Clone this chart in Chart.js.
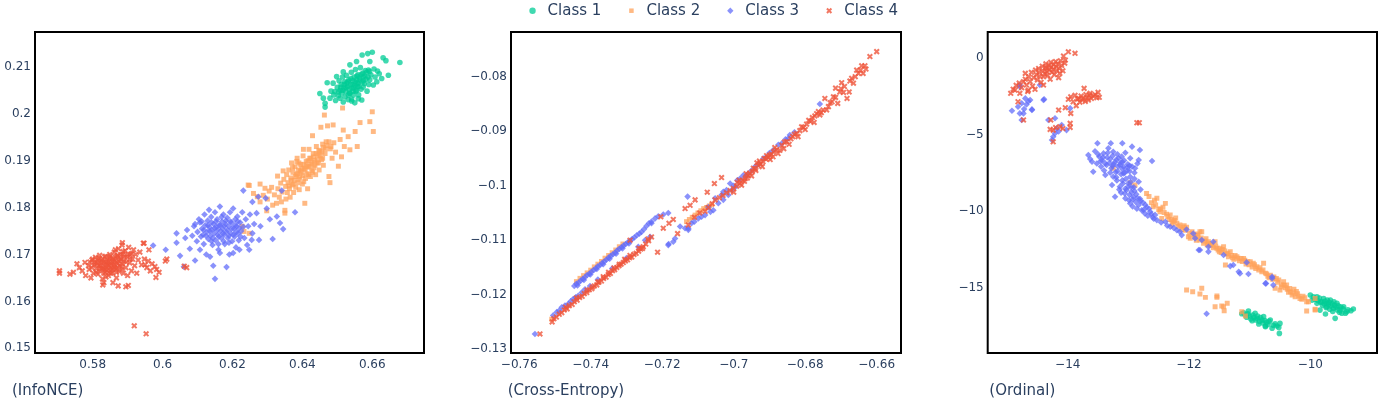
<!DOCTYPE html>
<html>
<head>
<meta charset="utf-8">
<script src="https://cdn.jsdelivr.net/npm/chart.js@4.4.1/dist/chart.umd.min.js"></script>
<style>
  body { margin: 0; background: #fff; }
  #wrap { position: relative; width: 1386px; height: 403px; overflow: hidden; }
  .panel { position: absolute; top: 0; height: 403px; }
</style>
</head>
<body>
<div id="wrap">
  <div class="panel" style="left:0;width:440px"><canvas id="infoChart"></canvas></div>
  <div class="panel" style="left:460px;width:495px"><canvas id="ceChart"></canvas></div>
  <div class="panel" style="left:955px;width:431px"><canvas id="ordChart"></canvas></div>
</div>

<script>
// ---- data ----
const classNames = ['Class 1', 'Class 2', 'Class 3', 'Class 4'];

// panel 1: InfoNCE
const infoXTicks = [0.58, 0.6, 0.62, 0.64, 0.66];
const infoYTicks = [0.15, 0.16, 0.17, 0.18, 0.19, 0.2, 0.21];

const infoC1 = [
  [0.6450,0.2043],[0.6460,0.2033],[0.6465,0.2022],[0.6465,0.2014],[0.6471,0.2066],[0.6479,0.2033],[0.6482,0.2048],
  [0.6488,0.2065],[0.6490,0.2040],[0.6493,0.2047],[0.6495,0.2028],[0.6498,0.2079],[0.6500,0.2056],[0.6503,0.2038],
  [0.6505,0.2070],[0.6508,0.2050],[0.6508,0.2033],[0.6511,0.2062],[0.6513,0.2044],[0.6515,0.2078],[0.6517,0.2025],
  [0.6517,0.2089],[0.6519,0.2055],[0.6521,0.2068],[0.6522,0.2036],[0.6524,0.2047],[0.6526,0.2082],[0.6527,0.2065],
  [0.6529,0.2058],[0.6531,0.2030],[0.6533,0.2072],[0.6535,0.2044],[0.6536,0.2104],[0.6536,0.2043],[0.6538,0.2062],
  [0.6540,0.2088],[0.6541,0.2031],[0.6541,0.2027],[0.6542,0.2054],[0.6544,0.2070],[0.6546,0.2040],[0.6548,0.2078],
  [0.6550,0.2023],[0.6550,0.2060],[0.6552,0.2094],[0.6553,0.2048],[0.6555,0.2111],[0.6555,0.2072],[0.6555,0.2050],
  [0.6557,0.2066],[0.6559,0.2083],[0.6560,0.2032],[0.6561,0.2040],[0.6562,0.2058],[0.6564,0.2076],[0.6566,0.2098],
  [0.6568,0.2052],[0.6570,0.2029],[0.6571,0.2125],[0.6571,0.2068],[0.6573,0.2086],[0.6574,0.2079],[0.6574,0.2057],
  [0.6577,0.2064],[0.6580,0.2092],[0.6582,0.2073],[0.6585,0.2048],[0.6587,0.2128],[0.6589,0.2093],[0.6590,0.2062],
  [0.6593,0.2111],[0.6593,0.2072],[0.6596,0.2083],[0.6600,0.2131],[0.6603,0.2061],[0.6605,0.2095],[0.6608,0.2078],
  [0.6613,0.2068],[0.6615,0.2091],[0.6620,0.2085],[0.6627,0.2075],[0.6631,0.2119],[0.6639,0.2113],[0.6646,0.2082],
  [0.6679,0.2109],
  [0.6504,0.2046],[0.6510,0.2056],[0.6516,0.2050],[0.6520,0.2062],[0.6525,0.2055],[0.6530,0.2068],[0.6534,0.2052],
  [0.6539,0.2075],[0.6543,0.2062],[0.6547,0.2056],[0.6551,0.2068],[0.6556,0.2080],[0.6560,0.2064],[0.6565,0.2072],
  [0.6569,0.2084],[0.6575,0.2070],[0.6579,0.2080],[0.6584,0.2088],[0.6588,0.2078],[0.6592,0.2090],[0.6532,0.2040],
  [0.6545,0.2048],[0.6558,0.2058]
];
const infoC2 = [
  [0.6233,0.1749],[0.6248,0.1745],[0.6228,0.1760],[0.6245,0.1848],[0.6248,0.1847],[0.6260,0.1830],[0.6271,0.1823],
  [0.6279,0.1850],[0.6279,0.1812],[0.6288,0.1826],[0.6293,0.1841],[0.6298,0.1793],[0.6300,0.1818],[0.6305,0.1835],
  [0.6312,0.1843],[0.6315,0.1805],[0.6320,0.1827],[0.6326,0.1809],[0.6329,0.1867],[0.6330,0.1840],[0.6334,0.1822],
  [0.6338,0.1852],[0.6340,0.1812],[0.6342,0.1833],[0.6345,0.1878],[0.6347,0.1860],[0.6350,0.1788],[0.6350,0.1794],
  [0.6352,0.1845],[0.6353,0.1818],[0.6355,0.1870],[0.6357,0.1832],[0.6359,0.1853],[0.6361,0.1880],[0.6363,0.1840],
  [0.6365,0.1822],[0.6367,0.1863],[0.6369,0.1895],[0.6371,0.1848],[0.6373,0.1875],[0.6375,0.1832],[0.6377,0.1858],
  [0.6379,0.1887],[0.6381,0.1843],[0.6383,0.1870],[0.6385,0.1905],[0.6387,0.1853],[0.6389,0.1880],[0.6391,0.1838],
  [0.6393,0.1865],[0.6395,0.1892],[0.6397,0.1875],[0.6400,0.1850],[0.6402,0.1910],[0.6403,0.1924],[0.6405,0.1883],
  [0.6407,0.1809],[0.6409,0.1862],[0.6411,0.1898],[0.6413,0.1872],[0.6415,0.1840],[0.6417,0.1888],[0.6419,0.1924],
  [0.6421,0.1905],[0.6423,0.1866],[0.6425,0.1893],[0.6427,0.1878],[0.6429,0.1953],[0.6431,0.1915],[0.6433,0.1885],
  [0.6435,0.1900],[0.6438,0.1870],[0.6440,0.1930],[0.6442,0.1895],[0.6445,0.1912],[0.6448,0.1880],[0.6450,0.1920],
  [0.6453,0.1971],[0.6455,0.1902],[0.6458,0.1935],[0.6460,0.1890],[0.6463,0.1997],[0.6465,0.1915],[0.6468,0.1940],
  [0.6472,0.1974],[0.6476,0.1866],[0.6479,0.1853],[0.6480,0.1925],[0.6485,0.1905],[0.6488,0.1976],[0.6490,0.1938],
  [0.6495,0.1918],[0.6503,0.1888],[0.6508,0.1945],[0.6512,0.1908],[0.6515,0.2012],[0.6517,0.1965],[0.6520,0.1930],
  [0.6531,0.1951],[0.6536,0.1923],[0.6551,0.1962],[0.6557,0.1930],[0.6565,0.1981],[0.6593,0.1983],[0.6600,0.2004],
  [0.6603,0.1962],
  [0.6362,0.1846],[0.6368,0.1858],[0.6374,0.1850],[0.6380,0.1866],[0.6386,0.1872],[0.6390,0.1860],[0.6394,0.1878],
  [0.6398,0.1884],[0.6401,0.1868],[0.6404,0.1892],[0.6408,0.1880],[0.6412,0.1888],[0.6416,0.1900],[0.6420,0.1886],
  [0.6424,0.1905],[0.6428,0.1896],[0.6432,0.1908],[0.6436,0.1890],[0.6439,0.1915],[0.6443,0.1903],[0.6447,0.1922],
  [0.6451,0.1910],[0.6456,0.1918],[0.6460,0.1928],[0.6466,0.1925],[0.6470,0.1932],[0.6476,0.1940],[0.6482,0.1930],
  [0.6390,0.1895],[0.6404,0.1855],[0.6418,0.1870],[0.6430,0.1875],[0.6446,0.1895],[0.6458,0.1905],[0.6372,0.1885],
  [0.6384,0.1898]
];
const infoC3 = [
  [0.5973,0.1719],[0.6009,0.1710],[0.6040,0.1745],[0.6040,0.1725],[0.6050,0.1697],[0.6061,0.1674],[0.6065,0.1735],
  [0.6070,0.1752],[0.6078,0.1712],[0.6085,0.1740],[0.6090,0.1760],[0.6093,0.1687],[0.6093,0.1765],[0.6098,0.1728],
  [0.6100,0.1748],[0.6104,0.1775],[0.6107,0.1768],[0.6107,0.1710],[0.6110,0.1738],[0.6113,0.1755],[0.6116,0.1742],
  [0.6118,0.1722],[0.6120,0.1785],[0.6122,0.1762],[0.6125,0.1700],[0.6127,0.1748],[0.6129,0.1772],[0.6131,0.1733],
  [0.6133,0.1795],[0.6134,0.1758],[0.6136,0.1695],[0.6137,0.1740],[0.6139,0.1780],[0.6141,0.1752],[0.6143,0.1720],
  [0.6145,0.1676],[0.6146,0.1765],[0.6148,0.1745],[0.6150,0.1648],[0.6150,0.1790],[0.6152,0.1730],[0.6154,0.1758],
  [0.6156,0.1775],[0.6158,0.1742],[0.6160,0.1710],[0.6162,0.1762],[0.6164,0.1802],[0.6164,0.1703],[0.6166,0.1750],
  [0.6168,0.1735],[0.6170,0.1770],[0.6172,0.1755],[0.6174,0.1785],[0.6176,0.1742],[0.6178,0.1722],[0.6180,0.1765],
  [0.6182,0.1748],[0.6183,0.1673],[0.6185,0.1778],[0.6187,0.1735],[0.6189,0.1760],[0.6191,0.1700],[0.6193,0.1790],
  [0.6195,0.1745],[0.6197,0.1768],[0.6199,0.1728],[0.6202,0.1798],[0.6202,0.1703],[0.6204,0.1755],[0.6206,0.1738],
  [0.6208,0.1775],[0.6210,0.1715],[0.6212,0.1760],[0.6214,0.1781],[0.6216,0.1745],[0.6218,0.1730],[0.6220,0.1710],
  [0.6222,0.1768],[0.6225,0.1750],[0.6228,0.1790],[0.6231,0.1759],[0.6231,0.1836],[0.6234,0.1735],[0.6238,0.1775],
  [0.6242,0.1720],[0.6245,0.1760],[0.6248,0.1710],[0.6250,0.1785],[0.6255,0.1731],[0.6257,0.1745],[0.6257,0.1812],
  [0.6262,0.1765],[0.6269,0.1788],[0.6274,0.1823],[0.6276,0.1731],[0.6280,0.1760],[0.6295,0.1820],[0.6298,0.1798],
  [0.6307,0.1775],[0.6315,0.1733],[0.6327,0.1781],[0.6336,0.1767],[0.6341,0.1836],[0.6345,0.1754],[0.6379,0.1790],
  [0.6112,0.1770],[0.6118,0.1752],[0.6124,0.1740],[0.6130,0.1762],[0.6135,0.1750],[0.6140,0.1768],[0.6144,0.1735],
  [0.6149,0.1756],[0.6153,0.1770],[0.6157,0.1752],[0.6161,0.1738],[0.6165,0.1762],[0.6169,0.1780],[0.6173,0.1745],
  [0.6177,0.1760],[0.6181,0.1772],[0.6186,0.1752],[0.6190,0.1740],[0.6194,0.1770],[0.6198,0.1755],[0.6203,0.1742],
  [0.6207,0.1762],[0.6211,0.1748],[0.6215,0.1770],[0.6219,0.1756],[0.6223,0.1738],[0.6160,0.1722],[0.6175,0.1728],
  [0.6190,0.1725],[0.6140,0.1728]
];
const infoC4 = [
  [0.5705,0.1665],[0.5705,0.1660],[0.5735,0.1658],[0.5745,0.1662],[0.5755,0.1680],[0.5762,0.1672],[0.5770,0.1665],
  [0.5778,0.1683],[0.5780,0.1655],[0.5788,0.1676],[0.5790,0.1668],[0.5795,0.1650],[0.5798,0.1688],[0.5800,0.1690],
  [0.5802,0.1660],[0.5805,0.1678],[0.5805,0.1682],[0.5810,0.1670],[0.5810,0.1662],[0.5812,0.1684],[0.5815,0.1658],
  [0.5815,0.1688],[0.5818,0.1692],[0.5818,0.1676],[0.5820,0.1665],[0.5822,0.1672],[0.5823,0.1676],[0.5825,0.1682],
  [0.5826,0.1686],[0.5828,0.1648],[0.5828,0.1690],[0.5829,0.1635],[0.5830,0.1670],[0.5832,0.1640],[0.5832,0.1660],
  [0.5834,0.1695],[0.5835,0.1668],[0.5836,0.1662],[0.5838,0.1680],[0.5838,0.1652],[0.5840,0.1672],[0.5840,0.1684],
  [0.5842,0.1688],[0.5843,0.1678],[0.5845,0.1655],[0.5846,0.1662],[0.5847,0.1676],[0.5848,0.1692],[0.5849,0.1700],
  [0.5851,0.1666],[0.5852,0.1672],[0.5853,0.1683],[0.5855,0.1692],[0.5856,0.1668],[0.5857,0.1660],[0.5858,0.1685],
  [0.5858,0.1640],[0.5860,0.1675],[0.5862,0.1705],[0.5862,0.1678],[0.5864,0.1687],[0.5865,0.1710],[0.5866,0.1668],
  [0.5866,0.1695],[0.5868,0.1650],[0.5870,0.1696],[0.5870,0.1672],[0.5872,0.1680],[0.5873,0.1633],[0.5874,0.1712],
  [0.5875,0.1686],[0.5876,0.1664],[0.5879,0.1690],[0.5880,0.1700],[0.5882,0.1674],[0.5884,0.1720],[0.5885,0.1725],
  [0.5885,0.1680],[0.5886,0.1700],[0.5888,0.1660],[0.5890,0.1686],[0.5893,0.1708],[0.5895,0.1672],[0.5895,0.1631],
  [0.5898,0.1695],[0.5900,0.1655],[0.5902,0.1634],[0.5903,0.1715],[0.5906,0.1682],[0.5908,0.1700],[0.5911,0.1665],
  [0.5914,0.1690],[0.5917,0.1710],[0.5920,0.1676],[0.5923,0.1700],[0.5926,0.1660],[0.5930,0.1688],[0.5935,0.1705],
  [0.5940,0.1678],[0.5945,0.1724],[0.5947,0.1724],[0.5948,0.1690],[0.5950,0.1678],[0.5955,0.1672],[0.5959,0.1686],
  [0.5961,0.1710],[0.5965,0.1665],[0.5970,0.1680],[0.5978,0.1674],[0.5981,0.1651],[0.5983,0.1668],[0.5990,0.1662],
  [0.6008,0.1686],[0.6012,0.1690],[0.6062,0.1675],[0.6069,0.1672],[0.5919,0.1548],[0.5953,0.1531],
  [0.5792,0.1684],[0.5798,0.1672],[0.5808,0.1694],[0.5813,0.1680],[0.5820,0.1698],[0.5826,0.1670],[0.5831,0.1684],
  [0.5837,0.1696],[0.5841,0.1666],[0.5846,0.1684],[0.5850,0.1696],[0.5854,0.1678],[0.5859,0.1690],[0.5863,0.1672],
  [0.5868,0.1684],[0.5872,0.1698],[0.5877,0.1676],[0.5881,0.1690],[0.5887,0.1706],[0.5891,0.1695],[0.5896,0.1684],
  [0.5901,0.1700],[0.5907,0.1690],[0.5912,0.1702],[0.5836,0.1675],[0.5852,0.1660],[0.5868,0.1662],[0.5884,0.1668]
];

// panel 2: Cross-Entropy
const ceXTicks = [-0.76, -0.74, -0.72, -0.7, -0.68, -0.66];
const ceYTicks = [-0.13, -0.12, -0.11, -0.1, -0.09, -0.08];

const ceC1 = [];
const ceC2 = [
  [-0.7509,-0.1245],
  [-0.7440,-0.1176],[-0.7430,-0.1170],[-0.7420,-0.1165],[-0.7410,-0.1160],[-0.7400,-0.1155],[-0.7390,-0.1149],
  [-0.7380,-0.1144],[-0.7370,-0.1139],[-0.7360,-0.1133],[-0.7350,-0.1128],[-0.7340,-0.1123],[-0.7330,-0.1118],
  [-0.7320,-0.1112],[-0.7310,-0.1107],
  [-0.7132,-0.1066],[-0.7124,-0.1062],[-0.7116,-0.1058],[-0.7108,-0.1054],[-0.7100,-0.1050],[-0.7092,-0.1046],
  [-0.7084,-0.1042],[-0.7076,-0.1040],[-0.7068,-0.1037],[-0.7062,-0.1035]
];
const ceC3 = [
  [-0.7556,-0.1272],
  [-0.7505,-0.1238],[-0.7495,-0.1232],[-0.7488,-0.1229],[-0.7481,-0.1223],[-0.7472,-0.1220],[-0.7463,-0.1217],
  [-0.7456,-0.1212],[-0.7449,-0.1208],[-0.7442,-0.1205],[-0.7435,-0.1202],[-0.7425,-0.1196],[-0.7416,-0.1190],
  [-0.7402,-0.1184],[-0.7380,-0.1172],[-0.7340,-0.1152],[-0.7300,-0.1133],[-0.7267,-0.1112],[-0.7248,-0.1100],
  [-0.7234,-0.1094],
  [-0.7446,-0.1184],[-0.7440,-0.1180],[-0.7434,-0.1178],[-0.7428,-0.1174],[-0.7422,-0.1171],[-0.7416,-0.1168],
  [-0.7410,-0.1164],[-0.7404,-0.1162],[-0.7398,-0.1158],[-0.7392,-0.1155],[-0.7386,-0.1152],[-0.7380,-0.1148],
  [-0.7374,-0.1146],[-0.7368,-0.1142],[-0.7362,-0.1139],[-0.7356,-0.1136],[-0.7350,-0.1132],[-0.7344,-0.1129],
  [-0.7338,-0.1126],[-0.7332,-0.1123],[-0.7326,-0.1119],[-0.7320,-0.1116],[-0.7314,-0.1113],[-0.7308,-0.1110],
  [-0.7302,-0.1107],[-0.7296,-0.1104],[-0.7290,-0.1101],[-0.7284,-0.1098],[-0.7278,-0.1095],[-0.7271,-0.1091],
  [-0.7264,-0.1088],[-0.7258,-0.1085],[-0.7251,-0.1080],[-0.7244,-0.1074],[-0.7237,-0.1069],[-0.7230,-0.1066],
  [-0.7220,-0.1060],[-0.7211,-0.1056],[-0.7197,-0.1053],[-0.7183,-0.1050],
  [-0.7437,-0.1183],[-0.7419,-0.1173],[-0.7401,-0.1163],[-0.7383,-0.1153],[-0.7365,-0.1144],[-0.7347,-0.1134],
  [-0.7329,-0.1125],[-0.7311,-0.1115],[-0.7293,-0.1106],
  [-0.7183,-0.1109],[-0.7182,-0.1107],[-0.7169,-0.1103],[-0.7164,-0.1097],[-0.7150,-0.1075],[-0.7129,-0.1020],
  [-0.7127,-0.1078],[-0.7230,-0.1069],
  [-0.7136,-0.1078],[-0.7127,-0.1081],[-0.7118,-0.1069],[-0.7110,-0.1066],[-0.7099,-0.1060],[-0.7090,-0.1057],
  [-0.7080,-0.1054],[-0.7071,-0.1039],[-0.7065,-0.1048],[-0.7057,-0.1045],[-0.7052,-0.1023],[-0.7043,-0.1032],
  [-0.7034,-0.1017],[-0.7029,-0.1026],[-0.7029,-0.1011],[-0.7015,-0.1017],[-0.7010,-0.0996],[-0.7005,-0.1008],
  [-0.6995,-0.1002],[-0.6982,-0.0987],[-0.6973,-0.0981],[-0.6960,-0.0978],[-0.6940,-0.0965],[-0.6917,-0.0950],
  [-0.6900,-0.0940],[-0.6875,-0.0925],[-0.6847,-0.0913],[-0.6843,-0.0907],[-0.6830,-0.0902],[-0.6759,-0.0850],
  [-0.7020,-0.1008],[-0.7000,-0.1000],[-0.6990,-0.0990],[-0.6965,-0.0982],[-0.6950,-0.0972],[-0.6930,-0.0960],
  [-0.6910,-0.0948],[-0.6890,-0.0935],[-0.6865,-0.0922],[-0.6855,-0.0915]
];
const ceC4 = [
  [-0.7542,-0.1272],
  [-0.7508,-0.1250],[-0.7503,-0.1244],[-0.7496,-0.1241],[-0.7488,-0.1236],[-0.7481,-0.1233],[-0.7474,-0.1228],
  [-0.7466,-0.1226],[-0.7460,-0.1220],[-0.7452,-0.1218],[-0.7446,-0.1213],[-0.7438,-0.1210],[-0.7431,-0.1205],
  [-0.7424,-0.1203],[-0.7418,-0.1198],[-0.7411,-0.1196],[-0.7404,-0.1191],[-0.7397,-0.1189],[-0.7390,-0.1184],
  [-0.7383,-0.1182],[-0.7377,-0.1177],[-0.7370,-0.1175],[-0.7364,-0.1170],[-0.7357,-0.1168],[-0.7351,-0.1163],
  [-0.7345,-0.1161],[-0.7339,-0.1156],[-0.7333,-0.1154],[-0.7327,-0.1150],[-0.7321,-0.1147],[-0.7315,-0.1144],
  [-0.7309,-0.1141],[-0.7303,-0.1138],[-0.7297,-0.1136],[-0.7291,-0.1132],[-0.7285,-0.1131],[-0.7279,-0.1126],
  [-0.7273,-0.1124],[-0.7266,-0.1120],[-0.7260,-0.1116],[-0.7253,-0.1112],[-0.7246,-0.1107],[-0.7238,-0.1101],
  [-0.7230,-0.1094],[-0.7290,-0.1100],[-0.7240,-0.1098],
  [-0.7470,-0.1223],[-0.7440,-0.1206],[-0.7410,-0.1192],[-0.7380,-0.1177],[-0.7350,-0.1159],[-0.7320,-0.1144],
  [-0.7290,-0.1128],[-0.7265,-0.1115],[-0.7255,-0.1115],[-0.7395,-0.1186],[-0.7365,-0.1167],[-0.7335,-0.1151],
  [-0.7305,-0.1135],
  [-0.7213,-0.1122],[-0.7204,-0.1057],[-0.7197,-0.1078],[-0.7181,-0.1069],[-0.7169,-0.1062],[-0.7157,-0.1088],
  [-0.7136,-0.1042],[-0.7122,-0.1036],[-0.7108,-0.1026],[-0.7074,-0.1012],[-0.7054,-0.0996],[-0.7034,-0.0985],
  [-0.7127,-0.1072],[-0.7110,-0.1058],[-0.7095,-0.1050],[-0.7080,-0.1047],[-0.7071,-0.1040],[-0.7060,-0.1033],
  [-0.7052,-0.1026],[-0.7040,-0.1022],[-0.7030,-0.1018],[-0.7020,-0.1013],[-0.7010,-0.1009],[-0.7001,-0.1005],
  [-0.6992,-0.1001],[-0.6985,-0.0990],[-0.6982,-0.0996],[-0.6975,-0.0990],[-0.6970,-0.0992],[-0.6968,-0.0987],
  [-0.6965,-0.0978],[-0.6960,-0.0981],[-0.6955,-0.0977],[-0.6948,-0.0974],[-0.6945,-0.0968],[-0.6940,-0.0969],
  [-0.6935,-0.0958],[-0.6932,-0.0963],[-0.6925,-0.0960],[-0.6918,-0.0956],[-0.6915,-0.0950],[-0.6910,-0.0951],
  [-0.6903,-0.0948],[-0.6900,-0.0944],[-0.6895,-0.0942],[-0.6890,-0.0947],[-0.6888,-0.0938],[-0.6880,-0.0934],
  [-0.6871,-0.0935],[-0.6865,-0.0926],[-0.6852,-0.0919],[-0.6840,-0.0914],[-0.6830,-0.0906],[-0.6824,-0.0904],
  [-0.6815,-0.0899],[-0.6805,-0.0893],[-0.6796,-0.0887],[-0.6785,-0.0882],[-0.6775,-0.0884],[-0.6773,-0.0872],
  [-0.6763,-0.0864],[-0.6759,-0.0870],[-0.6750,-0.0861],[-0.6745,-0.0840],[-0.6740,-0.0861],[-0.6735,-0.0855],
  [-0.6725,-0.0846],[-0.6721,-0.0837],[-0.6715,-0.0821],[-0.6709,-0.0849],[-0.6703,-0.0828],[-0.6698,-0.0811],
  [-0.6693,-0.0829],[-0.6683,-0.0840],[-0.6677,-0.0828],[-0.6670,-0.0803],[-0.6665,-0.0812],[-0.6656,-0.0788],
  [-0.6651,-0.0794],[-0.6642,-0.0780],[-0.6638,-0.0794],[-0.6633,-0.0780],[-0.6619,-0.0763],[-0.6600,-0.0754],
  [-0.7000,-0.1012],[-0.6990,-0.0994],[-0.6978,-0.0999],[-0.6962,-0.0986],[-0.6950,-0.0982],[-0.6938,-0.0972],
  [-0.6928,-0.0955],[-0.6920,-0.0965],[-0.6908,-0.0945],[-0.6898,-0.0952],[-0.6885,-0.0930],[-0.6876,-0.0941],
  [-0.6860,-0.0932],[-0.6858,-0.0920],[-0.6845,-0.0924],[-0.6835,-0.0910],[-0.6820,-0.0910],[-0.6810,-0.0892],
  [-0.6800,-0.0897],[-0.6790,-0.0880],[-0.6780,-0.0875],[-0.6768,-0.0868],[-0.6755,-0.0866],[-0.6730,-0.0848],
  [-0.6715,-0.0838],[-0.6700,-0.0822],[-0.6690,-0.0818],[-0.6675,-0.0808],[-0.6660,-0.0800],[-0.6645,-0.0788],
  [-0.6630,-0.0786]
];

// panel 3: Ordinal
const ordXTicks = [-14, -12, -10];
const ordYTicks = [-15, -10, -5, 0];

const ordC1 = [
  [-10.00,-15.48],[-9.97,-15.81],[-9.95,-15.60],[-9.92,-15.75],[-9.89,-15.59],[-9.89,-16.02],[-9.87,-15.85],
  [-9.85,-15.68],[-9.84,-16.46],[-9.83,-15.95],[-9.81,-15.92],[-9.80,-16.15],[-9.78,-15.70],[-9.77,-16.05],
  [-9.76,-15.88],[-9.75,-16.72],[-9.74,-16.30],[-9.73,-16.02],[-9.73,-16.24],[-9.72,-15.80],[-9.70,-16.10],
  [-9.69,-15.95],[-9.68,-16.40],[-9.67,-15.81],[-9.66,-16.20],[-9.64,-16.05],[-9.63,-16.55],[-9.62,-16.35],
  [-9.61,-15.92],[-9.60,-16.15],[-9.59,-17.00],[-9.58,-16.28],[-9.56,-16.02],[-9.55,-16.45],[-9.54,-16.18],
  [-9.52,-16.60],[-9.51,-16.46],[-9.50,-16.25],[-9.48,-16.67],[-9.46,-16.38],[-9.45,-16.24],[-9.42,-16.67],
  [-9.40,-16.57],[-9.38,-16.45],[-9.33,-16.50],[-9.29,-16.39],
  [-11.13,-16.70],[-11.10,-16.63],[-11.07,-16.80],[-11.05,-16.93],[-11.03,-16.70],[-11.02,-16.52],[-11.00,-16.85],
  [-10.98,-17.05],[-10.96,-17.15],[-10.95,-16.78],[-10.93,-16.95],[-10.91,-16.67],[-10.90,-17.10],[-10.88,-17.00],
  [-10.87,-16.85],[-10.85,-17.37],[-10.84,-17.20],[-10.82,-16.95],[-10.80,-17.10],[-10.78,-17.30],[-10.77,-16.89],
  [-10.75,-17.15],[-10.74,-17.54],[-10.74,-17.50],[-10.72,-17.25],[-10.70,-17.40],[-10.68,-17.20],[-10.66,-17.11],
  [-10.63,-17.65],[-10.61,-17.45],[-10.58,-17.35],[-10.55,-17.50],[-10.52,-17.59],[-10.51,-17.98],[-10.50,-17.33]
];
const ordC2 = [
  [-12.70,-8.85],[-12.66,-9.05],[-12.59,-9.72],[-12.57,-9.30],[-12.53,-9.17],[-12.50,-9.90],[-12.48,-10.05],
  [-12.45,-10.48],[-12.43,-9.75],[-12.39,-9.50],[-12.37,-10.20],[-12.33,-10.55],[-12.31,-10.26],[-12.28,-10.85],
  [-12.26,-10.70],[-12.22,-10.45],[-12.18,-11.00],[-12.15,-10.91],[-12.12,-11.20],[-12.08,-10.95],[-12.04,-11.06],
  [-12.01,-11.68],[-11.98,-11.78],[-11.95,-11.35],[-11.92,-11.55],[-11.88,-11.90],[-11.85,-11.60],[-11.82,-11.89],
  [-11.82,-11.35],[-11.79,-11.35],[-11.76,-12.10],[-11.72,-11.80],[-11.68,-12.11],[-11.68,-12.00],[-11.64,-12.25],
  [-11.60,-12.40],[-11.57,-12.00],[-11.54,-12.43],[-11.50,-12.65],[-11.49,-12.43],[-11.45,-12.50],[-11.43,-12.33],
  [-11.40,-13.52],[-11.38,-12.80],[-11.35,-12.98],[-11.32,-12.65],[-11.28,-13.05],[-11.24,-12.90],[-11.21,-12.98],
  [-11.17,-13.25],[-11.14,-13.10],[-11.10,-13.09],[-11.06,-13.45],[-11.03,-13.30],[-10.99,-13.31],[-10.96,-13.65],
  [-10.92,-13.50],[-10.88,-13.63],[-10.85,-13.85],[-10.80,-13.96],[-10.77,-13.41],[-10.74,-14.05],[-10.70,-14.25],
  [-10.66,-14.18],[-10.62,-14.45],[-10.58,-15.04],[-10.56,-14.40],[-10.52,-14.50],[-10.50,-15.15],[-10.47,-14.80],
  [-10.44,-14.61],[-10.41,-15.00],[-10.39,-14.83],[-10.36,-15.30],[-10.33,-15.26],[-10.30,-15.48],[-10.27,-15.10],
  [-10.25,-15.59],[-10.21,-15.40],[-10.17,-15.70],[-10.12,-15.55],[-10.06,-15.92],[-10.06,-16.52],[-10.03,-15.92],
  [-9.92,-15.70],[-9.92,-16.46],[-9.92,-16.41],
  [-12.62,-9.45],[-12.55,-9.60],[-12.47,-9.85],[-12.41,-10.10],[-12.35,-10.35],[-12.29,-10.55],[-12.24,-10.62],
  [-12.20,-10.80],[-12.10,-11.05],[-12.06,-11.25],[-11.99,-11.45],[-11.90,-11.70],[-11.86,-11.50],[-11.80,-11.75],
  [-11.74,-11.95],[-11.70,-12.20],[-11.62,-12.15],[-11.56,-12.30],[-11.52,-12.55],[-11.47,-12.70],[-11.41,-12.60],
  [-11.36,-12.75],[-11.30,-12.90],[-11.26,-13.15],[-11.19,-13.08],[-11.12,-13.30],[-11.08,-13.20],[-11.01,-13.50],
  [-10.94,-13.40],[-10.90,-13.75],[-10.83,-13.70],[-10.78,-13.85],[-10.72,-14.10],[-10.68,-14.35],[-10.60,-14.30],
  [-10.54,-14.65],[-10.48,-14.95],[-10.43,-14.85],[-10.38,-15.10],[-10.34,-15.05],[-10.28,-15.35],[-10.23,-15.25],
  [-10.19,-15.55],[-10.14,-15.75],[-10.09,-15.65],
  [-12.04,-15.15],[-11.94,-15.26],[-11.79,-15.04],[-11.82,-15.41],[-11.73,-15.63],[-11.54,-15.54],[-11.54,-15.63],
  [-11.57,-16.24],[-11.46,-16.20],[-11.43,-16.24],[-11.37,-16.02],[-11.42,-16.50],[-11.13,-16.57],[-11.07,-16.85],
  [-13.25,-7.21],[-12.97,-8.15],[-12.89,-8.30]
];
const ordC3 = [
  [-14.92,-3.46],[-14.82,-3.20],[-14.79,-1.89],[-14.79,-1.78],[-14.79,-3.63],[-14.76,-2.97],[-14.76,-4.06],
  [-14.73,-3.63],[-14.72,-3.35],[-14.70,-2.65],[-14.68,-3.05],[-14.65,-2.85],[-14.62,-2.76],[-14.59,-3.41],
  [-14.59,-3.37],[-14.46,-1.78],[-14.40,-2.76],[-14.39,-2.71],
  [-14.32,-4.06],[-14.21,-3.95],[-14.18,-4.61],[-14.10,-4.39],[-14.02,-4.72],[-14.21,-4.93],[-14.24,-5.15],
  [-14.26,-5.37],[-13.96,-3.30],[-14.15,-4.80],
  [-13.66,-6.35],[-13.63,-6.60],[-13.60,-6.78],[-13.58,-7.44],[-13.55,-6.10],[-13.52,-6.90],[-13.51,-5.58],
  [-13.48,-6.45],[-13.45,-7.10],[-13.43,-6.70],[-13.41,-6.24],[-13.40,-7.35],[-13.38,-7.65],[-13.36,-7.00],
  [-13.35,-6.50],[-13.33,-5.90],[-13.31,-6.85],[-13.29,-5.58],[-13.28,-7.20],[-13.27,-8.30],[-13.26,-6.40],
  [-13.25,-6.13],[-13.25,-7.76],[-13.24,-6.95],[-13.22,-9.07],[-13.21,-7.45],[-13.20,-6.65],[-13.19,-8.00],
  [-13.18,-6.30],[-13.17,-7.10],[-13.16,-6.56],[-13.15,-8.60],[-13.14,-8.41],[-13.13,-6.85],[-13.12,-7.60],
  [-13.11,-6.45],[-13.10,-5.58],[-13.10,-7.25],[-13.09,-8.20],[-13.08,-7.11],[-13.08,-7.54],[-13.07,-6.70],
  [-13.06,-8.85],[-13.05,-9.17],[-13.05,-6.20],[-13.04,-7.90],[-13.03,-8.63],[-13.02,-7.35],[-13.01,-6.95],
  [-13.00,-8.40],[-12.99,-9.30],[-12.98,-7.05],[-12.97,-6.56],[-12.97,-7.76],[-12.97,-9.50],[-12.96,-8.10],
  [-12.95,-8.75],[-12.94,-5.80],[-12.93,-9.70],[-12.92,-9.07],[-12.91,-8.45],[-12.90,-7.50],[-12.89,-7.21],
  [-12.88,-9.40],[-12.87,-8.90],[-12.86,-9.85],[-12.85,-6.90],[-12.83,-6.67],[-12.83,-8.09],[-12.83,-9.61],
  [-12.81,-6.02],[-12.81,-9.20],[-12.80,-8.60],[-12.78,-9.95],[-12.76,-9.45],[-12.75,-9.93],[-12.73,-10.15],
  [-12.70,-9.75],[-12.68,-10.30],[-12.64,-10.05],[-12.61,-6.74],[-12.60,-10.40],[-12.56,-10.25],[-12.53,-10.59],
  [-13.50,-6.30],[-13.46,-6.75],[-13.42,-6.50],[-13.38,-6.90],[-13.34,-6.20],[-13.30,-6.60],[-13.26,-7.05],
  [-13.22,-6.80],[-13.18,-7.40],[-13.14,-7.00],[-13.10,-6.80],[-13.06,-7.50],[-13.02,-7.15],[-12.98,-7.40],
  [-12.94,-7.10],[-12.90,-7.90],[-13.30,-7.50],[-13.20,-7.80],[-13.10,-8.00],[-13.00,-8.20],[-12.95,-8.45],
  [-13.05,-8.55],[-12.90,-8.70],[-13.12,-8.80],[-12.98,-8.95],[-12.85,-9.15],[-12.93,-9.25],[-12.80,-9.35],
  [-12.72,-9.60],[-12.66,-9.85],[-12.62,-10.20],[-12.58,-10.50],[-12.46,-10.75],[-12.36,-10.95],[-12.25,-11.10],
  [-12.20,-11.25],
  [-12.39,-10.70],[-12.31,-11.02],[-12.15,-11.35],[-12.12,-11.57],[-12.04,-11.20],[-11.93,-11.46],[-11.90,-11.78],
  [-11.84,-12.54],[-11.82,-12.54],[-11.79,-11.89],[-11.68,-12.33],[-11.68,-12.65],[-11.60,-12.00],[-11.43,-12.87],
  [-11.32,-13.59],[-11.27,-13.52],[-11.18,-13.96],[-11.16,-14.07],[-11.05,-13.35],[-11.02,-14.11],[-10.74,-14.72],
  [-10.73,-14.72],[-10.63,-14.29],[-10.63,-14.39],[-10.61,-14.83],[-11.71,-16.70]
];
const ordC4 = [
  [-14.94,-2.32],[-14.90,-2.05],[-14.87,-2.11],[-14.85,-1.80],[-14.82,-2.87],[-14.80,-1.65],[-14.79,-2.32],
  [-14.76,-1.95],[-14.73,-1.56],[-14.73,-4.06],[-14.70,-1.02],[-14.70,-1.40],[-14.68,-1.78],[-14.66,-2.20],
  [-14.65,-2.11],[-14.64,-1.25],[-14.62,-1.55],[-14.60,-0.95],[-14.58,-1.85],[-14.56,-1.30],[-14.54,-2.06],
  [-14.53,-0.80],[-14.52,-1.10],[-14.50,-1.45],[-14.48,-0.70],[-14.47,-0.95],[-14.46,-1.20],[-14.44,-1.60],
  [-14.42,-0.55],[-14.41,-0.85],[-14.40,-1.24],[-14.40,-1.78],[-14.38,-1.05],[-14.37,-0.65],[-14.36,-0.40],
  [-14.35,-0.90],[-14.34,-0.69],[-14.33,-1.15],[-14.31,-0.50],[-14.30,-0.80],[-14.29,-1.40],[-14.28,-0.30],
  [-14.27,-0.60],[-14.26,-0.95],[-14.24,-0.75],[-14.23,-0.45],[-14.22,-1.10],[-14.20,-0.25],[-14.19,-0.60],
  [-14.18,-0.85],[-14.16,-0.40],[-14.15,-1.30],[-14.14,-0.70],[-14.13,-1.02],[-14.12,-0.20],[-14.10,-0.50],
  [-14.08,-0.85],[-14.07,0.11],[-14.05,-0.35],[-14.04,-0.15],[-13.99,0.39],[-13.88,0.29],
  [-13.99,-2.71],[-13.95,-2.55],[-13.91,-2.87],[-13.88,-2.45],[-13.86,-3.13],[-13.84,-2.70],[-13.82,-2.65],
  [-13.80,-2.90],[-13.78,-2.50],[-13.76,-2.75],[-13.74,-2.65],[-13.73,-2.00],[-13.71,-2.85],[-13.70,-2.40],
  [-13.68,-2.60],[-13.66,-2.76],[-13.64,-2.45],[-13.63,-2.32],[-13.61,-2.65],[-13.58,-2.50],[-13.55,-2.40],
  [-13.52,-2.60],[-13.50,-2.26],[-13.48,-2.58],
  [-14.15,-3.41],[-14.04,-3.26],[-13.95,-3.63],[-12.86,-4.24],[-12.82,-4.24],
  [-14.29,-4.67],[-14.28,-4.06],[-14.24,-4.72],[-14.20,-4.55],[-14.13,-4.50],[-14.08,-4.62],[-13.96,-4.28],
  [-13.96,-4.54],[-14.24,-5.48]
];

// ---- styling ----
Chart.defaults.font.family = '"DejaVu Sans", Verdana, sans-serif';
const inkColor = '#2a3f5f';
const markers = [
  { pointStyle: 'circle',   pointRadius: 2.8, color: 'rgba(0, 204, 150, 0.75)',  borderWidth: 0 },
  { pointStyle: 'rect',     pointRadius: 3.5, color: 'rgba(255, 161, 90, 0.75)', borderWidth: 0 },
  { pointStyle: 'rectRot',  pointRadius: 3.3, color: 'rgba(99, 110, 250, 0.75)', borderWidth: 0 },
  { pointStyle: 'crossRot', pointRadius: 3.3, color: 'rgba(239, 85, 59, 0.8)',   borderWidth: 2 }
];

function tickText(v) {
  return String(Math.round(v * 10000) / 10000).replace('-', '\u2212');
}

function makeDatasets(series) {
  return series.map((points, i) => ({
    label: classNames[i],
    data: points,
    pointStyle: markers[i].pointStyle,
    pointRadius: markers[i].pointRadius,
    backgroundColor: markers[i].color,
    borderColor: markers[i].color,
    borderWidth: markers[i].borderWidth,
    // Plotly paints later traces on top; Chart.js paints low "order" last
    order: series.length - i
  }));
}

function makeAxis(range, tickValues, pad, fitSize) {
  return {
    type: 'linear',
    min: range[0],
    max: range[1],
    grid: { display: false, drawTicks: false },
    border: { display: false },
    ticks: { color: inkColor, font: { size: 12 }, padding: pad, autoSkip: false, maxRotation: 0, callback: tickText },
    afterBuildTicks: axis => { axis.ticks = tickValues.map(value => ({ value })); },
    afterFit: axis => {
      if (axis.isHorizontal()) axis.height = fitSize; else axis.width = fitSize;
    }
  };
}

// black box round every plot area
const framePlugin = {
  id: 'frame',
  afterDraw(chart) {
    const { ctx, chartArea: a } = chart;
    ctx.save();
    ctx.strokeStyle = '#000';
    ctx.lineWidth = 2;
    ctx.strokeRect(a.left, a.top, a.right - a.left, a.bottom - a.top);
    ctx.restore();
  }
};

// "(InfoNCE)" etc. under each plot, left aligned near the plot's left edge
const captionPlugin = {
  id: 'caption',
  afterDraw(chart, args, opts) {
    const { ctx, chartArea: a } = chart;
    ctx.save();
    ctx.font = '15px "DejaVu Sans", Verdana, sans-serif';
    ctx.fillStyle = inkColor;
    ctx.textAlign = 'left';
    ctx.textBaseline = 'middle';
    ctx.fillText(opts.text, a.left + opts.dx, a.bottom + 38);
    ctx.restore();
  }
};

// leaves a bit more room between the legend row and the plot, as Plotly does
const legendGap = {
  id: 'legendGap',
  afterInit(chart, args, opts) {
    const legend = chart.legend;
    if (!legend || !opts.extra) return;
    const fit = legend.fit.bind(legend);
    legend.fit = () => { fit(); legend.height += opts.extra; };
  }
};

function makeChart(id, cfg) {
  const scales = {
    x: makeAxis(cfg.xRange, cfg.xTicks, 5, 29),
    y: makeAxis(cfg.yRange, cfg.yTicks, 4, cfg.yAxisWidth)
  };
  scales.x.position = 'bottom';
  scales.y.position = 'left';
  if (cfg.rightRoom) {
    // empty axis on the right so the legend row can run past the plot
    scales.y2 = {
      type: 'linear', position: 'right', display: true,
      grid: { display: false, drawTicks: false }, border: { display: false },
      ticks: { display: false },
      afterFit: axis => { axis.width = cfg.rightRoom; }
    };
  }

  return new Chart(document.getElementById(id), {
    type: 'scatter',
    data: { datasets: makeDatasets(cfg.series) },
    options: {
      responsive: true,
      maintainAspectRatio: false,
      animation: false,
      events: [],
      layout: { padding: cfg.padding },
      scales: scales,
      plugins: {
        tooltip: { enabled: false },
        legend: cfg.legend ? {
          display: true,
          position: 'top',
          align: 'center',
          labels: {
            usePointStyle: true,
            boxHeight: 4.5,
            padding: 22.6,
            color: inkColor,
            font: { size: 15 },
            sort: (a, b) => a.datasetIndex - b.datasetIndex
          }
        } : { display: false },
        legendGap: { extra: cfg.legend ? 3.8 : 0 },
        caption: { text: cfg.caption, dx: cfg.captionDx }
      }
    },
    plugins: [framePlugin, captionPlugin, legendGap]
  });
}

makeChart('infoChart', {
  series: [infoC1, infoC2, infoC3, infoC4],
  xRange: [0.5635, 0.6748], xTicks: infoXTicks,
  yRange: [0.1490, 0.2174], yTicks: infoYTicks,
  yAxisWidth: 35,
  padding: { left: 0, top: 32, right: 16, bottom: 21 },
  caption: '(InfoNCE)', captionDx: -23
});

makeChart('ceChart', {
  series: [ceC1, ceC2, ceC3, ceC4],
  xRange: [-0.7623, -0.6532], xTicks: ceXTicks,
  yRange: [-0.1307, -0.0718], yTicks: ceYTicks,
  yAxisWidth: 43,
  rightRoom: 54,
  padding: { left: 8, top: -19.4, right: 0, bottom: 21 },
  legend: true,
  caption: '(Cross-Entropy)', captionDx: -3.3
});

makeChart('ordChart', {
  series: [ordC1, ordC2, ordC3, ordC4],
  xRange: [-15.32, -8.90], xTicks: ordXTicks,
  yRange: [-19.26, 1.68], yTicks: ordYTicks,
  yAxisWidth: 32.7,
  padding: { left: 0, top: 32, right: 9, bottom: 21 },
  caption: '(Ordinal)', captionDx: 1.6
});
</script>
</body>
</html>
